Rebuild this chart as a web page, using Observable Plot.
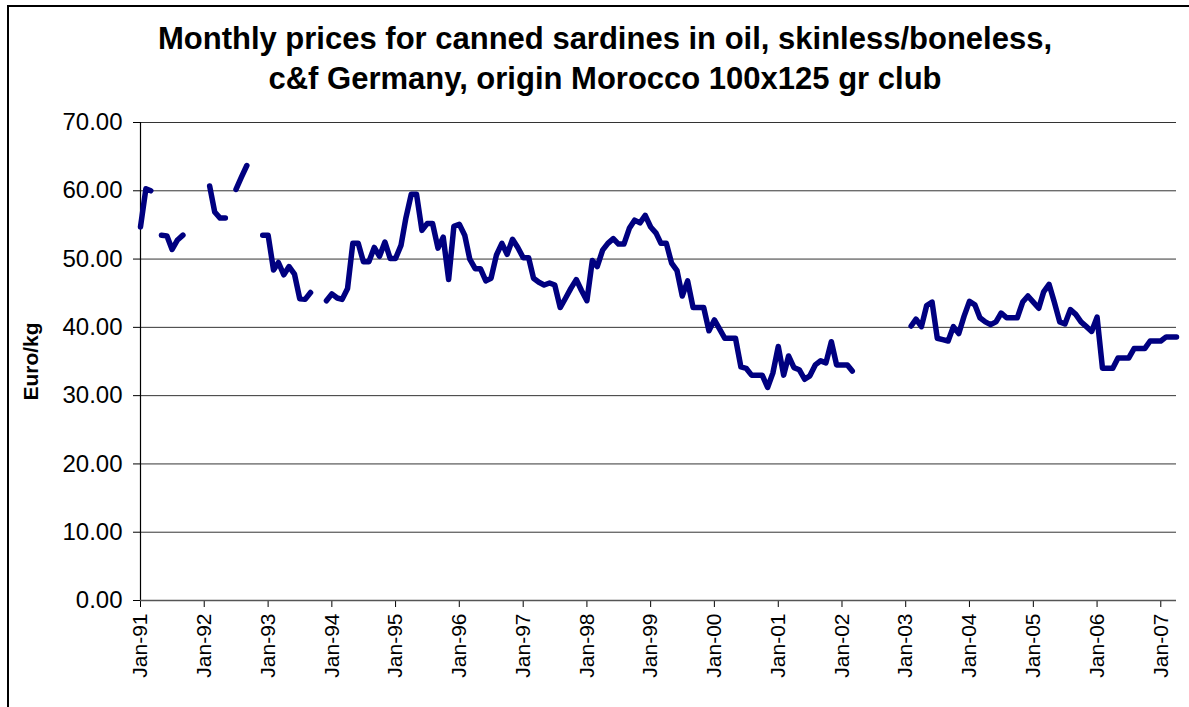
<!DOCTYPE html>
<html><head><meta charset="utf-8">
<script src="https://cdn.jsdelivr.net/npm/d3@7"></script>
<script src="https://cdn.jsdelivr.net/npm/@observablehq/plot@0.6"></script>
<style>
body{margin:0;background:#fff;font-family:"Liberation Sans",Arial,sans-serif;overflow:hidden;}
#frame{position:absolute;left:7px;top:5px;width:1300px;height:800px;border-left:2px solid #000;border-top:2px solid #000;z-index:2;pointer-events:none;}
#title{position:absolute;left:0;width:1210px;top:19px;text-align:center;font-weight:bold;font-size:31px;line-height:40px;color:#000;z-index:2;}
#chart{position:absolute;left:0;top:110px;z-index:1;}
</style></head>
<body>
<div id="frame"></div>
<div id="title">Monthly prices for canned sardines in oil, skinless/boneless,<br>c&amp;f Germany, origin Morocco 100x125 gr club</div>
<div id="chart"></div>
<script>
// Monthly prices (Euro/kg), one array per year, Jan..Dec; null = no data
const firstYear = 1991;
const p1991 = [54.7, 60.3, 60.0, null, 53.5, 53.4, 51.4, 52.8, 53.5, null, null, null];
const p1992 = [null, 60.7, 56.9, 56.0, 56.0, null, 60.2, 62.0, 63.7, null, null, 53.5];
const p1993 = [53.5, 48.4, 49.5, 47.7, 48.9, 47.8, 44.2, 44.1, 45.1, null, null, 43.9];
const p1994 = [44.9, 44.3, 44.1, 45.7, 52.3, 52.3, 49.6, 49.6, 51.7, 50.4, 52.5, 50.1];
const p1995 = [50.1, 52.0, 56.0, 59.5, 59.5, 54.2, 55.2, 55.2, 51.6, 53.2, 47.0, 54.8];
const p1996 = [55.1, 53.5, 50.0, 48.6, 48.6, 46.8, 47.2, 50.6, 52.3, 50.7, 52.9, 51.7];
const p1997 = [50.2, 50.2, 47.2, 46.6, 46.2, 46.5, 46.2, 42.9, 44.3, 45.7, 47.0, 45.4];
const p1998 = [43.9, 49.8, 48.9, 51.3, 52.3, 53.0, 52.2, 52.2, 54.5, 55.7, 55.3, 56.4];
const p1999 = [54.7, 53.8, 52.3, 52.3, 49.4, 48.3, 44.6, 46.8, 42.9, 42.9, 42.9, 39.5];
const p2000 = [41.1, 39.7, 38.4, 38.4, 38.4, 34.2, 34.0, 33.0, 33.0, 33.0, 31.2, 33.3];
const p2001 = [37.2, 33.0, 35.8, 34.1, 33.8, 32.4, 32.9, 34.5, 35.1, 34.8, 37.9, 34.5];
const p2002 = [34.5, 34.5, 33.6, null, null, null, null, null, null, null, null, null];
const p2003 = [null, 40.2, 41.2, 40.1, 43.2, 43.7, 38.4, 38.2, 38.0, 40.1, 39.1, 41.6];
const p2004 = [43.8, 43.3, 41.4, 40.8, 40.4, 40.8, 42.1, 41.4, 41.4, 41.4, 43.7, 44.6];
const p2005 = [43.7, 42.8, 45.2, 46.3, 43.7, 40.8, 40.5, 42.6, 41.9, 40.8, 40.1, 39.4];
const p2006 = [41.5, 34.0, 34.0, 34.0, 35.5, 35.5, 35.5, 36.9, 36.9, 36.9, 38.0, 38.0];
const p2007 = [38.0, 38.6, 38.6, 38.6];
const yearly = [p1991,p1992,p1993,p1994,p1995,p1996,p1997,p1998,p1999,p2000,p2001,p2002,p2003,p2004,p2005,p2006,p2007];

const yTicks = [0, 10, 20, 30, 40, 50, 60, 70];
const yLabel = "Euro/kg";
const tickYears = d3.range(1991, 2008);
const xTickLabels = tickYears.map(y => "Jan-" + String(y).slice(2));

const rows = [];
yearly.forEach((arr, i) => arr.forEach((v, m) => rows.push({date: new Date(Date.UTC(firstYear + i, m, 1)), price: v})));
const xTicks = tickYears.map(y => new Date(Date.UTC(y, 0, 1)));
const xStart = rows[0].date, xEnd = rows[rows.length - 1].date;

const chart = Plot.plot({
  width: 1189, height: 590,
  marginLeft: 140, marginRight: 13, marginTop: 12, marginBottom: 100,
  x: {type: "utc", domain: [xStart, xEnd]},
  y: {domain: [0, 70]},
  style: {fontFamily: "'Liberation Sans', Arial, sans-serif", color: "#000", background: "transparent", overflow: "visible"},
  marks: [
    Plot.gridY(yTicks, {stroke: "#000", strokeOpacity: 0.8, strokeWidth: 1}),
    Plot.axisY(yTicks, {tickFormat: d => d.toFixed(2), fontSize: 24, tickSize: 7, tickPadding: 11, label: null, stroke: "#000"}),
    Plot.axisX(xTicks, {tickFormat: (d, i) => xTickLabels[i], tickRotate: -90, fontSize: 21, tickSize: 7, tickPadding: 6, label: null, stroke: "#000"}),
    Plot.text([yLabel], {frameAnchor: "left", textAnchor: "middle", dx: -109, rotate: -90, fontSize: 21, fontWeight: "bold", fill: "#000"}),
    Plot.ruleX([xStart], {stroke: "#000", strokeWidth: 1.2}),
    Plot.ruleY([0], {stroke: "#555", strokeWidth: 1.5}),
    Plot.line(rows, {x: "date", y: "price", stroke: "#000080", strokeWidth: 5.5, strokeLinejoin: "round", strokeLinecap: "round"})
  ]
});
document.getElementById("chart").appendChild(chart);
</script>
</body></html>
